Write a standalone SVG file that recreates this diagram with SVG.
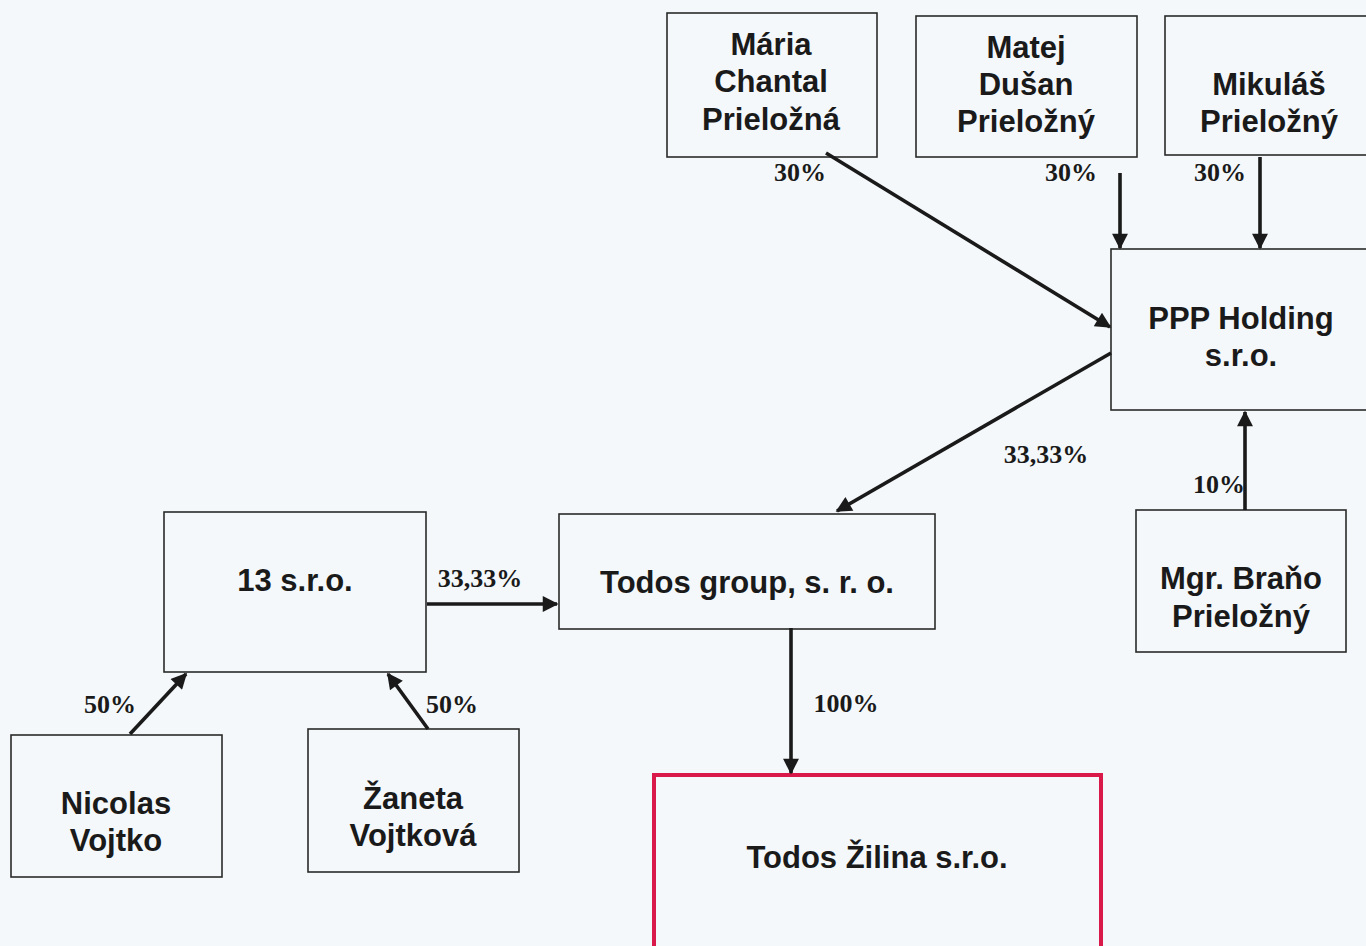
<svg xmlns="http://www.w3.org/2000/svg" width="1366" height="946" viewBox="0 0 1366 946">
<defs>
<marker id="ah" viewBox="0 0 10 10" refX="9" refY="5" markerWidth="5" markerHeight="4.4" orient="auto" markerUnits="strokeWidth">
<path d="M0,0 L10,5 L0,10 Z" fill="#1a1a1a"/>
</marker>
</defs>
<style>
.box{fill:none;stroke:#2a2a2a;stroke-width:1.6}
.red{fill:none;stroke:#d8194a;stroke-width:4}
.t{font-family:"Liberation Sans",Arial,sans-serif;font-weight:bold;font-size:31px;fill:#1a1a1a;text-anchor:middle}
.p{font-family:"Liberation Serif","Times New Roman",serif;font-weight:bold;font-size:26px;fill:#1a1a1a;text-anchor:middle}
.c{stroke:#1a1a1a;stroke-width:3.6;fill:none;marker-end:url(#ah)}
</style>
<rect width="1366" height="946" fill="#f4f8fa"/>
<g id="maria"><rect class="box" x="667" y="13" width="210" height="144"/>
<text class="t" x="771" y="55">Mária</text><text class="t" x="771" y="92">Chantal</text><text class="t" x="771" y="130">Prieložná</text></g>
<g id="matej"><rect class="box" x="916" y="16" width="221" height="141"/>
<text class="t" x="1026" y="58">Matej</text><text class="t" x="1026" y="95">Dušan</text><text class="t" x="1026" y="132">Prieložný</text></g>
<g id="mikulas"><rect class="box" x="1165" y="16" width="210" height="139"/>
<text class="t" x="1269" y="95">Mikuláš</text><text class="t" x="1269" y="132">Prieložný</text></g>
<g id="ppp"><rect class="box" x="1111" y="249" width="270" height="161"/>
<text class="t" x="1241" y="329">PPP Holding</text><text class="t" x="1241" y="366">s.r.o.</text></g>
<g id="brano"><rect class="box" x="1136" y="510" width="210" height="142"/>
<text class="t" x="1241" y="589">Mgr. Braňo</text><text class="t" x="1241" y="627">Prieložný</text></g>
<g id="todosgroup"><rect class="box" x="559" y="514" width="376" height="115"/>
<text class="t" x="747" y="593">Todos group, s. r. o.</text></g>
<g id="s13"><rect class="box" x="164" y="512" width="262" height="160"/>
<text class="t" x="295" y="591">13 s.r.o.</text></g>
<g id="nicolas"><rect class="box" x="11" y="735" width="211" height="142"/>
<text class="t" x="116" y="814">Nicolas</text><text class="t" x="116" y="851">Vojtko</text></g>
<g id="zaneta"><rect class="box" x="308" y="729" width="211" height="143"/>
<text class="t" x="413" y="809">Žaneta</text><text class="t" x="413" y="846">Vojtková</text></g>
<g id="zilina"><rect class="red" x="654" y="775" width="447" height="190"/>
<text class="t" x="877" y="868">Todos Žilina s.r.o.</text></g>
<g id="connectors">
<line class="c" x1="826" y1="153" x2="1110" y2="327"/>
<line class="c" x1="1120" y1="173" x2="1120" y2="248"/>
<line class="c" x1="1260" y1="157" x2="1260" y2="248"/>
<line class="c" x1="1111" y1="353" x2="837" y2="511"/>
<line class="c" x1="1245" y1="510" x2="1245" y2="412"/>
<line class="c" x1="427" y1="604" x2="557" y2="604"/>
<line class="c" x1="791" y1="628" x2="791" y2="773"/>
<line class="c" x1="130" y1="734" x2="186" y2="674"/>
<line class="c" x1="428" y1="729" x2="388" y2="674"/>
</g>
<g id="labels">
<text class="p" x="800" y="181">30%</text>
<text class="p" x="1071" y="181">30%</text>
<text class="p" x="1220" y="181">30%</text>
<text class="p" x="1046" y="463">33,33%</text>
<text class="p" x="1219" y="493">10%</text>
<text class="p" x="480" y="587">33,33%</text>
<text class="p" x="846" y="712">100%</text>
<text class="p" x="110" y="713">50%</text>
<text class="p" x="452" y="713">50%</text>
</g>
</svg>
